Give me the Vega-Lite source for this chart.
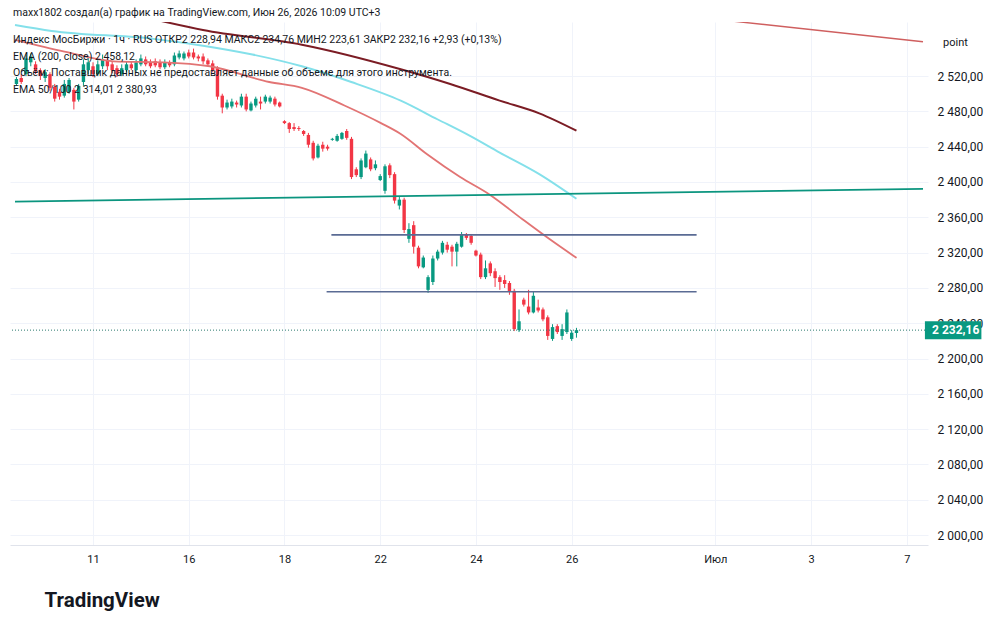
{
 "$schema": "https://vega.github.io/schema/vega-lite/v6.json",
 "width": 918,
 "height": 523,
 "autosize": {"type": "none"},
 "padding": {"left": 10, "top": 22, "right": 72, "bottom": 84},
 "background": "#ffffff",
 "config": {
  "view": {"stroke": null},
  "font": "Roboto",
  "locale": {"number": {"decimal": ",", "thousands": " ", "grouping": [3], "currency": ["", ""]}}
 },
 "title": {
  "text": "maxx1802 создал(а) график на TradingView.com, Июн 26, 2026 10:09 UTC+3",
  "subtitle": [
   "Индекс МосБиржи · 1ч · RUS  ОТКР2 228,94  МАКС2 234,76  МИН2 223,61  ЗАКР2 232,16  +2,93 (+0,13%)",
   "EMA (200, close)  2 458,12",
   "Объём: Поставщик данных не предоставляет данные об объеме для этого инструмента.",
   "EMA 50/100  2 314,01  2 380,93"
  ],
  "anchor": "start",
  "frame": "group",
  "orient": "top",
  "offset": -73.6,
  "dx": 3,
  "font": "Roboto",
  "fontSize": 10.5,
  "fontWeight": "normal",
  "color": "#131722",
  "subtitleFont": "Roboto",
  "subtitleFontSize": 10.5,
  "subtitleColor": "#131722",
  "subtitleLineHeight": 16.7,
  "subtitlePadding": 17
 },
 "datasets": {
  "candles": [
   {"i":0,"o":2511.1,"h":2518.9,"l":2508.9,"c":2516.7},
   {"i":1,"o":2517.8,"h":2522.2,"l":2511.1,"c":2513.3},
   {"i":2,"o":2522.2,"h":2544.4,"l":2520.0,"c":2540.0},
   {"i":3,"o":2535.6,"h":2545.6,"l":2531.1,"c":2542.2},
   {"i":4,"o":2533.3,"h":2536.7,"l":2522.2,"c":2525.6},
   {"i":5,"o":2526.7,"h":2528.9,"l":2515.6,"c":2520.0},
   {"i":6,"o":2517.8,"h":2527.8,"l":2513.3,"c":2524.4},
   {"i":7,"o":2522.2,"h":2524.4,"l":2503.3,"c":2506.7},
   {"i":8,"o":2507.8,"h":2511.1,"l":2491.1,"c":2494.4},
   {"i":9,"o":2502.2,"h":2505.6,"l":2493.3,"c":2496.7},
   {"i":10,"o":2497.8,"h":2515.6,"l":2495.6,"c":2511.1},
   {"i":11,"o":2502.2,"h":2517.8,"l":2500.0,"c":2515.6},
   {"i":12,"o":2504.4,"h":2506.7,"l":2482.2,"c":2491.1},
   {"i":13,"o":2493.3,"h":2511.1,"l":2491.1,"c":2508.9},
   {"i":14,"o":2513.3,"h":2538.9,"l":2508.9,"c":2533.3},
   {"i":15,"o":2526.7,"h":2542.2,"l":2522.2,"c":2535.6},
   {"i":16,"o":2531.1,"h":2535.6,"l":2518.9,"c":2522.2},
   {"i":17,"o":2522.2,"h":2537.8,"l":2520.0,"c":2533.3},
   {"i":18,"o":2531.1,"h":2544.4,"l":2527.8,"c":2538.9},
   {"i":19,"o":2537.8,"h":2541.1,"l":2526.7,"c":2531.1},
   {"i":20,"o":2533.3,"h":2536.7,"l":2523.3,"c":2526.7},
   {"i":21,"o":2528.9,"h":2532.2,"l":2518.9,"c":2522.2},
   {"i":22,"o":2522.2,"h":2533.3,"l":2520.0,"c":2528.9},
   {"i":23,"o":2526.7,"h":2536.7,"l":2524.4,"c":2533.3},
   {"i":24,"o":2533.3,"h":2536.7,"l":2526.7,"c":2528.9},
   {"i":25,"o":2526.7,"h":2538.9,"l":2524.4,"c":2535.6},
   {"i":26,"o":2533.3,"h":2544.4,"l":2531.1,"c":2540.0},
   {"i":27,"o":2538.9,"h":2542.2,"l":2531.1,"c":2533.3},
   {"i":28,"o":2535.6,"h":2538.9,"l":2528.9,"c":2531.1},
   {"i":29,"o":2536.7,"h":2540.0,"l":2530.0,"c":2532.2},
   {"i":30,"o":2535.6,"h":2538.9,"l":2527.8,"c":2530.0},
   {"i":31,"o":2530.0,"h":2538.9,"l":2527.8,"c":2535.6},
   {"i":32,"o":2535.6,"h":2537.8,"l":2530.0,"c":2532.2},
   {"i":33,"o":2533.3,"h":2546.7,"l":2531.1,"c":2543.3},
   {"i":34,"o":2541.1,"h":2548.9,"l":2538.9,"c":2545.6},
   {"i":35,"o":2540.0,"h":2547.8,"l":2537.8,"c":2545.6},
   {"i":36,"o":2546.7,"h":2550.0,"l":2540.0,"c":2542.2},
   {"i":37,"o":2546.7,"h":2551.1,"l":2538.9,"c":2541.1},
   {"i":38,"o":2542.2,"h":2544.4,"l":2536.7,"c":2540.0},
   {"i":39,"o":2542.2,"h":2545.6,"l":2533.3,"c":2536.7},
   {"i":40,"o":2537.8,"h":2540.0,"l":2531.1,"c":2533.3},
   {"i":41,"o":2534.4,"h":2537.8,"l":2524.4,"c":2526.7},
   {"i":42,"o":2528.9,"h":2531.1,"l":2493.3,"c":2496.7},
   {"i":43,"o":2497.8,"h":2500.0,"l":2477.8,"c":2484.4},
   {"i":44,"o":2484.4,"h":2493.3,"l":2482.2,"c":2490.0},
   {"i":45,"o":2485.6,"h":2494.4,"l":2483.3,"c":2491.1},
   {"i":46,"o":2490.0,"h":2492.2,"l":2484.4,"c":2487.8},
   {"i":47,"o":2486.7,"h":2500.0,"l":2484.4,"c":2496.7},
   {"i":48,"o":2496.7,"h":2500.0,"l":2480.0,"c":2482.2},
   {"i":49,"o":2481.1,"h":2491.1,"l":2480.0,"c":2488.9},
   {"i":50,"o":2486.7,"h":2496.7,"l":2484.4,"c":2494.4},
   {"i":51,"o":2491.1,"h":2496.7,"l":2482.2,"c":2488.9},
   {"i":52,"o":2491.1,"h":2498.9,"l":2488.9,"c":2496.7},
   {"i":53,"o":2491.1,"h":2497.8,"l":2488.9,"c":2495.6},
   {"i":54,"o":2494.4,"h":2496.7,"l":2485.6,"c":2487.8},
   {"i":55,"o":2490.0,"h":2491.1,"l":2484.4,"c":2485.6},
   {"i":56,"o":2468.9,"h":2470.0,"l":2465.6,"c":2466.7},
   {"i":57,"o":2466.7,"h":2467.8,"l":2455.6,"c":2460.0},
   {"i":58,"o":2462.2,"h":2466.7,"l":2457.8,"c":2460.0},
   {"i":59,"o":2461.1,"h":2463.3,"l":2457.8,"c":2460.0},
   {"i":60,"o":2457.8,"h":2458.9,"l":2452.2,"c":2454.4},
   {"i":61,"o":2453.3,"h":2455.6,"l":2438.9,"c":2442.2},
   {"i":62,"o":2444.4,"h":2446.7,"l":2424.4,"c":2426.7},
   {"i":63,"o":2427.8,"h":2443.3,"l":2426.7,"c":2441.1},
   {"i":64,"o":2442.2,"h":2445.6,"l":2434.4,"c":2437.8},
   {"i":65,"o":2440.0,"h":2442.2,"l":2435.6,"c":2437.8},
   {"i":66,"o":2447.8,"h":2450.0,"l":2446.7,"c":2448.9},
   {"i":67,"o":2446.7,"h":2454.4,"l":2445.6,"c":2452.2},
   {"i":68,"o":2448.9,"h":2456.7,"l":2447.8,"c":2455.6},
   {"i":69,"o":2457.8,"h":2460.0,"l":2447.8,"c":2450.0},
   {"i":70,"o":2448.9,"h":2451.1,"l":2403.3,"c":2405.6},
   {"i":71,"o":2414.4,"h":2416.7,"l":2405.6,"c":2407.8},
   {"i":72,"o":2405.6,"h":2426.7,"l":2403.3,"c":2424.4},
   {"i":73,"o":2416.7,"h":2435.6,"l":2415.6,"c":2432.2},
   {"i":74,"o":2425.6,"h":2427.8,"l":2412.2,"c":2414.4},
   {"i":75,"o":2415.6,"h":2424.4,"l":2413.3,"c":2420.0},
   {"i":76,"o":2402.2,"h":2408.9,"l":2401.1,"c":2406.7},
   {"i":77,"o":2390.0,"h":2420.0,"l":2386.7,"c":2417.8},
   {"i":78,"o":2418.9,"h":2421.1,"l":2404.4,"c":2407.8},
   {"i":79,"o":2408.9,"h":2411.1,"l":2375.6,"c":2378.9},
   {"i":80,"o":2373.3,"h":2383.3,"l":2368.9,"c":2380.0},
   {"i":81,"o":2380.0,"h":2382.2,"l":2342.2,"c":2345.6},
   {"i":82,"o":2335.6,"h":2353.3,"l":2331.1,"c":2346.7},
   {"i":83,"o":2351.1,"h":2355.6,"l":2318.9,"c":2326.7},
   {"i":84,"o":2325.6,"h":2327.8,"l":2302.2,"c":2304.4},
   {"i":85,"o":2303.3,"h":2316.7,"l":2302.2,"c":2314.4},
   {"i":86,"o":2277.8,"h":2294.4,"l":2274.4,"c":2292.2},
   {"i":87,"o":2286.7,"h":2316.7,"l":2283.3,"c":2313.3},
   {"i":88,"o":2313.3,"h":2323.3,"l":2311.1,"c":2321.1},
   {"i":89,"o":2320.0,"h":2333.3,"l":2317.8,"c":2331.1},
   {"i":90,"o":2328.9,"h":2332.2,"l":2320.0,"c":2323.3},
   {"i":91,"o":2326.7,"h":2328.9,"l":2304.4,"c":2321.1},
   {"i":92,"o":2321.1,"h":2332.2,"l":2304.4,"c":2330.0},
   {"i":93,"o":2326.7,"h":2343.3,"l":2325.6,"c":2341.1},
   {"i":94,"o":2341.1,"h":2342.2,"l":2334.4,"c":2336.7},
   {"i":95,"o":2338.9,"h":2341.1,"l":2328.9,"c":2331.1},
   {"i":96,"o":2322.2,"h":2323.3,"l":2315.6,"c":2316.7},
   {"i":97,"o":2317.8,"h":2320.0,"l":2290.0,"c":2292.2},
   {"i":98,"o":2292.2,"h":2311.1,"l":2290.0,"c":2302.2},
   {"i":99,"o":2307.8,"h":2310.0,"l":2293.3,"c":2296.7},
   {"i":100,"o":2298.9,"h":2302.2,"l":2281.1,"c":2291.1},
   {"i":101,"o":2292.2,"h":2294.4,"l":2277.8,"c":2286.7},
   {"i":102,"o":2288.9,"h":2294.4,"l":2280.0,"c":2284.4},
   {"i":103,"o":2285.6,"h":2287.8,"l":2272.2,"c":2275.6},
   {"i":104,"o":2276.7,"h":2278.9,"l":2231.1,"c":2233.3},
   {"i":105,"o":2232.2,"h":2255.6,"l":2230.0,"c":2242.2},
   {"i":106,"o":2266.7,"h":2268.9,"l":2258.9,"c":2261.1},
   {"i":107,"o":2258.9,"h":2277.8,"l":2250.0,"c":2252.2},
   {"i":108,"o":2252.2,"h":2275.6,"l":2251.1,"c":2271.1},
   {"i":109,"o":2257.8,"h":2266.7,"l":2252.2,"c":2254.4},
   {"i":110,"o":2255.6,"h":2257.8,"l":2242.2,"c":2244.4},
   {"i":111,"o":2246.7,"h":2248.9,"l":2221.1,"c":2225.6},
   {"i":112,"o":2222.2,"h":2238.9,"l":2220.0,"c":2235.6},
   {"i":113,"o":2236.7,"h":2238.9,"l":2227.8,"c":2230.0},
   {"i":114,"o":2225.6,"h":2238.9,"l":2221.1,"c":2233.3},
   {"i":115,"o":2230.0,"h":2255.6,"l":2227.8,"c":2252.2},
   {"i":116,"o":2222.2,"h":2232.2,"l":2220.0,"c":2229.23},
   {"i":117,"o":2228.94,"h":2234.76,"l":2223.61,"c":2232.16}
  ],
  "lines": [
   {"s":"ema200","i":28.63,"p":2584.4},
   {"s":"ema200","i":38.97,"p":2572.2},
   {"s":"ema200","i":59.63,"p":2555.6},
   {"s":"ema200","i":80.29,"p":2527.8},
   {"s":"ema200","i":90.63,"p":2511.1},
   {"s":"ema200","i":100.96,"p":2492.2},
   {"s":"ema200","i":109.23,"p":2477.8},
   {"s":"ema200","i":117,"p":2458.12},
   {"s":"ema100","i":-0.3,"p":2577.8},
   {"s":"ema100","i":7.35,"p":2571.1},
   {"s":"ema100","i":28.63,"p":2562.2},
   {"s":"ema100","i":38.97,"p":2554.4},
   {"s":"ema100","i":49.3,"p":2544.4},
   {"s":"ema100","i":59.63,"p":2531.1},
   {"s":"ema100","i":69.96,"p":2513.3},
   {"s":"ema100","i":80.29,"p":2492.2},
   {"s":"ema100","i":87.94,"p":2471.1},
   {"s":"ema100","i":94.76,"p":2452.2},
   {"s":"ema100","i":100.96,"p":2433.3},
   {"s":"ema100","i":109.23,"p":2408.9},
   {"s":"ema100","i":117,"p":2380.93},
   {"s":"ema50","i":-0.3,"p":2561.1},
   {"s":"ema50","i":10.03,"p":2547.8},
   {"s":"ema50","i":20.37,"p":2536.7},
   {"s":"ema50","i":30.7,"p":2535.6},
   {"s":"ema50","i":40.41,"p":2531.1},
   {"s":"ema50","i":52.81,"p":2513.3},
   {"s":"ema50","i":59.63,"p":2506.7},
   {"s":"ema50","i":68.52,"p":2486.7},
   {"s":"ema50","i":76.16,"p":2466.7},
   {"s":"ema50","i":80.29,"p":2454.4},
   {"s":"ema50","i":85.87,"p":2431.1},
   {"s":"ema50","i":92.7,"p":2405.6},
   {"s":"ema50","i":98.89,"p":2385.6},
   {"s":"ema50","i":105.72,"p":2357.8},
   {"s":"ema50","i":111.29,"p":2335.6},
   {"s":"ema50","i":117,"p":2314.01},
   {"s":"trend","i":-0.3,"p":2377.8},
   {"s":"trend","i":189.4,"p":2392.2},
   {"s":"lvl1","i":65.8,"p":2340.0},
   {"s":"lvl1","i":142.1,"p":2340.0},
   {"s":"lvl2","i":64.8,"p":2275.6},
   {"s":"lvl2","i":142.1,"p":2275.6},
   {"s":"ray","i":150,"p":2582.0},
   {"s":"ray","i":189.4,"p":2558.9}
  ],
  "last": [
   {"i":117,"c":2232.16}
  ]
 },
 "layer": [
  {
   "data": {"name": "candles"},
   "mark": {"type": "rule", "strokeWidth": 1},
   "encoding": {
    "x": {
     "field": "i", "type": "quantitative",
     "scale": {"domain": [-0.3, 189.4], "nice": false, "zero": false},
     "axis": {
      "values": [16, 36, 56, 76, 96, 116, 146, 166, 186],
      "labelExpr": "datum.value==16?'11':datum.value==36?'16':datum.value==56?'18':datum.value==76?'22':datum.value==96?'24':datum.value==116?'26':datum.value==146?'Июл':datum.value==166?'3':'7'",
      "ticks": false,
      "domain": true,
      "domainColor": "#e0e3eb",
      "grid": true,
      "gridColor": "#f0f3fa",
      "labelColor": "#131722",
      "labelFontSize": 11,
      "labelPadding": 8,
      "labelFlush": false,
      "labelOverlap": false,
      "title": "TradingView",
      "titleX": 34,
      "titleY": 55,
      "titleAlign": "left",
      "titleBaseline": "middle",
      "titleFont": "Roboto",
      "titleFontSize": 20.5,
      "titleFontWeight": "bold",
      "titleColor": "#131722"
     }
    },
    "y": {
     "field": "l", "type": "quantitative",
     "scale": {"domain": [1994.4, 2575.6], "nice": false, "zero": false},
     "axis": {
      "orient": "right",
      "values": [2000, 2040, 2080, 2120, 2160, 2200, 2240, 2280, 2320, 2360, 2400, 2440, 2480, 2520],
      "format": ",.2f",
      "ticks": false,
      "domain": false,
      "grid": true,
      "gridColor": "#f0f3fa",
      "labelColor": "#131722",
      "labelFontSize": 12,
      "labelPadding": 9,
      "labelFlush": false,
      "labelOverlap": false,
      "title": "point",
      "titleAngle": 0,
      "titleX": 27,
      "titleY": 20,
      "titleAlign": "center",
      "titleBaseline": "middle",
      "titleFontSize": 11,
      "titleFontWeight": "normal",
      "titleColor": "#131722"
     }
    },
    "y2": {"field": "h"},
    "color": {"condition": {"test": "datum.c >= datum.o", "value": "#089981"}, "value": "#f23645"}
   }
  },
  {
   "data": {"name": "candles"},
   "mark": {"type": "bar", "size": 3.4},
   "encoding": {
    "x": {"field": "i", "type": "quantitative", "scale": {"domain": [-0.3, 189.4], "nice": false, "zero": false}},
    "y": {"field": "o", "type": "quantitative", "scale": {"domain": [1994.4, 2575.6], "nice": false, "zero": false}},
    "y2": {"field": "c"},
    "color": {"condition": {"test": "datum.c >= datum.o", "value": "#089981"}, "value": "#f23645"}
   }
  },
  {
   "data": {"name": "lines"},
   "mark": {"type": "line", "clip": true, "interpolate": "monotone"},
   "encoding": {
    "x": {"field": "i", "type": "quantitative", "scale": {"domain": [-0.3, 189.4], "nice": false, "zero": false}},
    "y": {"field": "p", "type": "quantitative", "scale": {"domain": [1994.4, 2575.6], "nice": false, "zero": false}},
    "color": {
     "field": "s", "type": "nominal",
     "scale": {"domain": ["ema200", "ema100", "ema50", "trend", "lvl1", "lvl2", "ray"], "range": ["#7b1c24", "#84e0ea", "#e27474", "#0b957f", "#5a6b94", "#5a6b94", "#cf5f5f"]},
     "legend": null
    },
    "strokeWidth": {
     "field": "s", "type": "ordinal",
     "scale": {"domain": ["ema200", "ema100", "ema50", "trend", "lvl1", "lvl2", "ray"], "range": [2, 1.5, 1.2, 3, 1.5, 1.5, 1.2]},
     "legend": null
    }
   }
  },
  {
   "data": {"name": "last"},
   "mark": {"type": "rule", "strokeDash": [1, 2], "color": "#2b7a6e", "strokeWidth": 1},
   "encoding": {
    "y": {"field": "c", "type": "quantitative", "scale": {"domain": [1994.4, 2575.6], "nice": false, "zero": false}}
   }
  },
  {
   "data": {"name": "last"},
   "mark": {"type": "bar", "orient": "horizontal", "size": 18, "color": "#089981", "clip": false},
   "encoding": {
    "x": {"datum": 189.8, "type": "quantitative", "scale": {"domain": [-0.3, 189.4], "nice": false, "zero": false}},
    "x2": {"datum": 201.6},
    "y": {"field": "c", "type": "quantitative", "scale": {"domain": [1994.4, 2575.6], "nice": false, "zero": false}}
   }
  },
  {
   "data": {"name": "last"},
   "mark": {"type": "text", "align": "left", "baseline": "middle", "color": "#ffffff", "fontSize": 12, "fontWeight": "bold", "clip": false},
   "encoding": {
    "x": {"datum": 191.3, "type": "quantitative", "scale": {"domain": [-0.3, 189.4], "nice": false, "zero": false}},
    "y": {"field": "c", "type": "quantitative", "scale": {"domain": [1994.4, 2575.6], "nice": false, "zero": false}},
    "text": {"field": "c", "type": "quantitative", "format": ",.2f"}
   }
  }
 ]
}
